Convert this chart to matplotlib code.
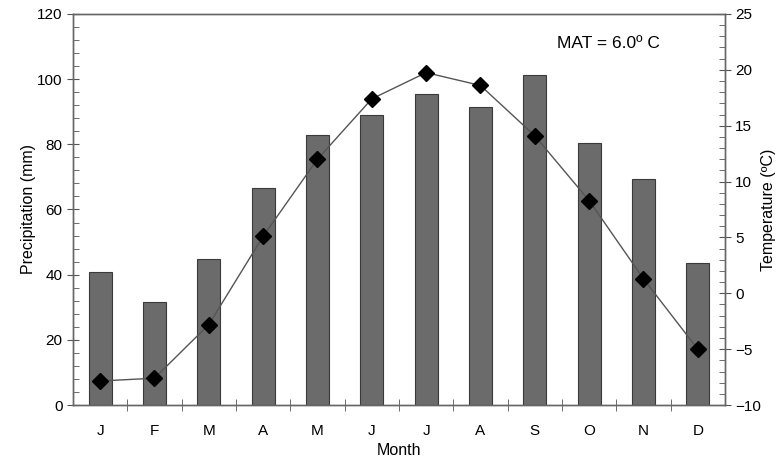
import matplotlib.pyplot as plt
from matplotlib.ticker import MultipleLocator

plt.rcParams['font.family'] = ['Liberation Sans', 'DejaVu Sans']

months = ['J', 'F', 'M', 'A', 'M', 'J', 'J', 'A', 'S', 'O', 'N', 'D']
precip_mm = [40.7, 31.5, 44.7, 66.5, 82.8, 89.1, 95.5, 91.4, 101.2, 80.3, 69.5, 43.6]
temp_c = [-7.85, -7.6, -2.8, 5.1, 12.0, 17.4, 19.75, 18.6, 14.1, 8.3, 1.3, -5.0]

fig = plt.figure(figsize=(7.78, 4.59), dpi=100)
ax = fig.add_axes([0.0938, 0.1176, 0.838, 0.852])

x = range(len(months))
ax.bar(x, precip_mm, width=0.42, color='#6b6b6b', edgecolor='#3a3a3a', linewidth=0.8, zorder=2)
ax.set_xlim(-0.5, len(months) - 0.5)
ax.set_ylim(0, 120)
ax.set_xticks(list(x))
ax.set_xticklabels(months, fontsize=11)
ax.set_xticks([i + 0.5 for i in range(len(months) - 1)], minor=True)
ax.tick_params(axis='x', which='major', length=0, pad=14)
ax.tick_params(axis='x', which='minor', direction='inout', length=8, color='#555555')
ax.yaxis.set_major_locator(MultipleLocator(20))
ax.yaxis.set_minor_locator(MultipleLocator(4))
ax.tick_params(axis='y', which='major', direction='inout', length=8, labelsize=11, color='#555555')
ax.tick_params(axis='y', which='minor', direction='in', length=4, color='#555555')
ax.set_ylabel('Precipitation (mm)', fontsize=11.5, labelpad=1)
ax.set_xlabel('Month', fontsize=11.5, labelpad=3)

ax2 = ax.twinx()
ax2.plot(list(x), temp_c, color='#555555', linewidth=1.0, marker='D', markersize=8,
         markerfacecolor='black', markeredgecolor='black', zorder=3)
ax2.set_ylim(-10, 25)
ax2.yaxis.set_major_locator(MultipleLocator(5))
ax2.yaxis.set_minor_locator(MultipleLocator(1))
ax2.tick_params(axis='y', which='major', direction='inout', length=8, labelsize=11, color='#555555')
ax2.tick_params(axis='y', which='minor', direction='in', length=4, color='#555555')
ax2.set_ylabel('Temperature (ºC)', fontsize=11.5)
ax2.yaxis.set_label_coords(1.055, 0.5)

for a in (ax, ax2):
    for s in a.spines.values():
        s.set_color('#666666')
        s.set_linewidth(1.0)

ax2.text(0.822, 0.925, 'MAT = 6.0º C', transform=ax.transAxes, ha='center', va='center', fontsize=12.5)

fig.savefig('out.png', dpi=100)
